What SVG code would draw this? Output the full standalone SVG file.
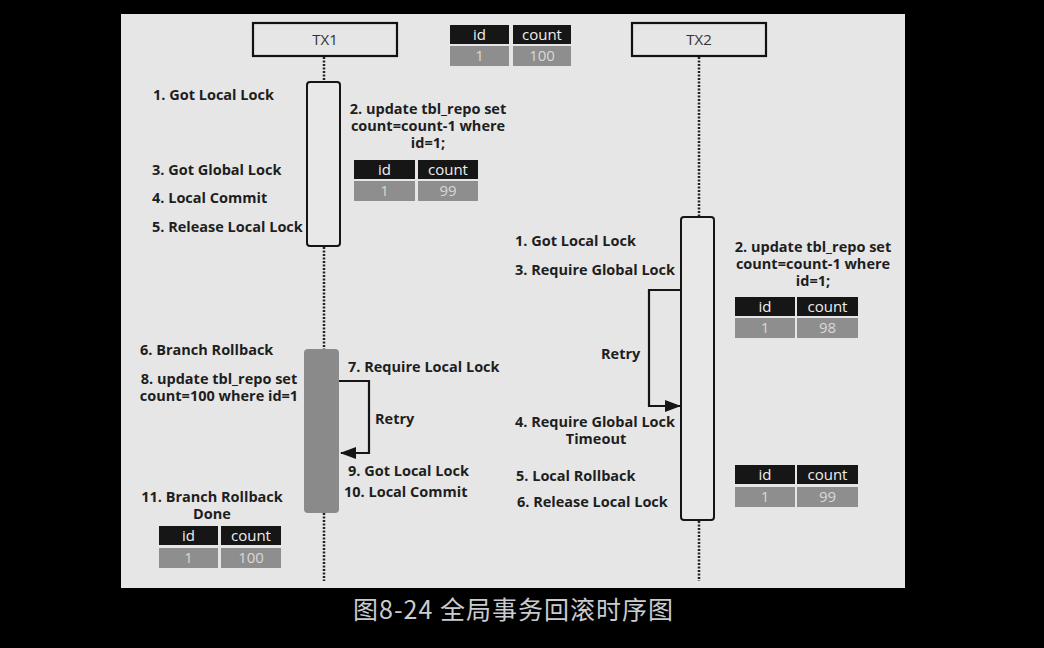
<svg xmlns="http://www.w3.org/2000/svg" width="1044" height="648" viewBox="0 0 1044 648">
<style>
.lbl{font-family:"Open Sans","Liberation Sans",sans-serif;font-weight:700;font-size:14.5px;fill:#1e1e1e}
.mid{text-anchor:middle}
.head{fill:none;stroke:#111;stroke-width:2.2}
.htxt{font-family:"Open Sans","Liberation Sans",sans-serif;font-size:15px;fill:#333;text-anchor:middle}
.act{fill:#e8e8e8;stroke:#151515;stroke-width:2}
.actg{fill:#8a8a8a}
.life{stroke:#222;stroke-width:2.5;stroke-dasharray:2 1.5;fill:none}
.loop{stroke:#151515;stroke-width:2.2;fill:none}
.th{fill:#161616}
.td{fill:#8e8e8e}
.tht{font-family:"Open Sans","Liberation Sans",sans-serif;font-size:15px;fill:#eee;text-anchor:middle}
.tdt{font-family:"Open Sans","Liberation Sans",sans-serif;font-size:15px;fill:#d8d8d8;text-anchor:middle}
</style>
<defs>
<marker id="arr" markerUnits="userSpaceOnUse" markerWidth="16" markerHeight="12" refX="15" refY="6" orient="auto">
<path d="M0,0 L16,6 L0,12 z" fill="#151515"/>
</marker>
</defs>
<rect width="1044" height="648" fill="#000"/>
<rect x="121" y="14" width="784" height="574" fill="#e6e6e6"/>

<g id="connectors">
<line class="life" x1="324" y1="57" x2="324" y2="82"/>
<line class="life" x1="324" y1="247" x2="324" y2="349"/>
<line class="life" x1="324" y1="513" x2="324" y2="581"/>
<line class="life" x1="699" y1="57" x2="699" y2="217"/>
<line class="life" x1="699" y1="521" x2="699" y2="581"/>
<path class="loop" d="M339,381 H369 V453 H341" marker-end="url(#arr)"/>
<path class="loop" d="M681,290 H649 V406 H680" marker-end="url(#arr)"/>
</g>

<g id="tx1">
<rect class="head" x="253" y="23" width="144" height="33"/>
<text class="htxt" x="325" y="45">TX1</text>
</g>
<g id="tx2">
<rect class="head" x="632" y="23" width="134" height="33"/>
<text class="htxt" x="699" y="45">TX2</text>
</g>

<g id="tx1-act1"><rect class="act" x="307" y="82" width="33" height="164" rx="3"/></g>
<g id="tx2-act"><rect class="act" x="681" y="217" width="33" height="303" rx="3"/></g>
<g id="tx1-act2"><rect class="actg" x="304" y="349" width="35" height="164" rx="4"/></g>

<g id="table-init">
<rect class="th" x="450" y="25" width="59" height="19"/><rect class="th" x="513" y="25" width="58" height="19"/>
<rect class="td" x="450" y="46" width="59" height="20"/><rect class="td" x="513" y="46" width="58" height="20"/>
<text class="tht" x="479.5" y="40">id</text><text class="tht" x="542" y="40">count</text>
<text class="tdt" x="479.5" y="61">1</text><text class="tdt" x="542" y="61">100</text>
</g>
<g id="table-tx1-99">
<rect class="th" x="354" y="160" width="61" height="19"/><rect class="th" x="418" y="160" width="60" height="19"/>
<rect class="td" x="354" y="181" width="61" height="20"/><rect class="td" x="418" y="181" width="60" height="20"/>
<text class="tht" x="384.5" y="175">id</text><text class="tht" x="448" y="175">count</text>
<text class="tdt" x="384.5" y="196">1</text><text class="tdt" x="448" y="196">99</text>
</g>
<g id="table-tx2-98">
<rect class="th" x="735" y="297" width="60" height="19"/><rect class="th" x="797" y="297" width="61" height="19"/>
<rect class="td" x="735" y="318" width="60" height="20"/><rect class="td" x="797" y="318" width="61" height="20"/>
<text class="tht" x="765" y="312">id</text><text class="tht" x="827.5" y="312">count</text>
<text class="tdt" x="765" y="333">1</text><text class="tdt" x="827.5" y="333">98</text>
</g>
<g id="table-tx2-99">
<rect class="th" x="735" y="465" width="60" height="19"/><rect class="th" x="797" y="465" width="61" height="19"/>
<rect class="td" x="735" y="487" width="60" height="20"/><rect class="td" x="797" y="487" width="61" height="20"/>
<text class="tht" x="765" y="480">id</text><text class="tht" x="827.5" y="480">count</text>
<text class="tdt" x="765" y="502">1</text><text class="tdt" x="827.5" y="502">99</text>
</g>
<g id="table-tx1-100">
<rect class="th" x="159" y="526" width="59" height="19"/><rect class="th" x="221" y="526" width="60" height="19"/>
<rect class="td" x="159" y="548" width="59" height="20"/><rect class="td" x="221" y="548" width="60" height="20"/>
<text class="tht" x="188.5" y="541">id</text><text class="tht" x="251" y="541">count</text>
<text class="tdt" x="188.5" y="563">1</text><text class="tdt" x="251" y="563">100</text>
</g>

<g id="tx1-labels">
<text class="lbl" x="153" y="100">1. Got Local Lock</text>
<text class="lbl mid" x="428" y="114">2. update tbl_repo set</text>
<text class="lbl mid" x="428" y="131">count=count-1 where</text>
<text class="lbl mid" x="428" y="148">id=1;</text>
<text class="lbl" x="152" y="175">3. Got Global Lock</text>
<text class="lbl" x="152" y="203">4. Local Commit</text>
<text class="lbl" x="152" y="232">5. Release Local Lock</text>
<text class="lbl" x="140" y="355">6. Branch Rollback</text>
<text class="lbl" x="348" y="372">7. Require Local Lock</text>
<text class="lbl mid" x="219" y="384">8. update tbl_repo set</text>
<text class="lbl mid" x="219" y="401">count=100 where id=1</text>
<text class="lbl" x="375" y="424">Retry</text>
<text class="lbl" x="348" y="476">9. Got Local Lock</text>
<text class="lbl" x="344" y="497">10. Local Commit</text>
<text class="lbl mid" x="212" y="502">11. Branch Rollback</text>
<text class="lbl mid" x="212" y="519">Done</text>
</g>

<g id="tx2-labels">
<text class="lbl" x="515" y="246">1. Got Local Lock</text>
<text class="lbl mid" x="813" y="252">2. update tbl_repo set</text>
<text class="lbl mid" x="813" y="269">count=count-1 where</text>
<text class="lbl mid" x="813" y="286">id=1;</text>
<text class="lbl" x="515" y="275">3. Require Global Lock</text>
<text class="lbl" x="601" y="359">Retry</text>
<text class="lbl" x="515" y="427">4. Require Global Lock</text>
<text class="lbl mid" x="596" y="444">Timeout</text>
<text class="lbl" x="516" y="481">5. Local Rollback</text>
<text class="lbl" x="517" y="507">6. Release Local Lock</text>
</g>

<text x="353" y="619" textLength="320" lengthAdjust="spacing" font-family="'Noto Sans CJK SC',sans-serif" font-size="25" fill="#c8ccd0">图8-24 全局事务回滚时序图</text>
</svg>
